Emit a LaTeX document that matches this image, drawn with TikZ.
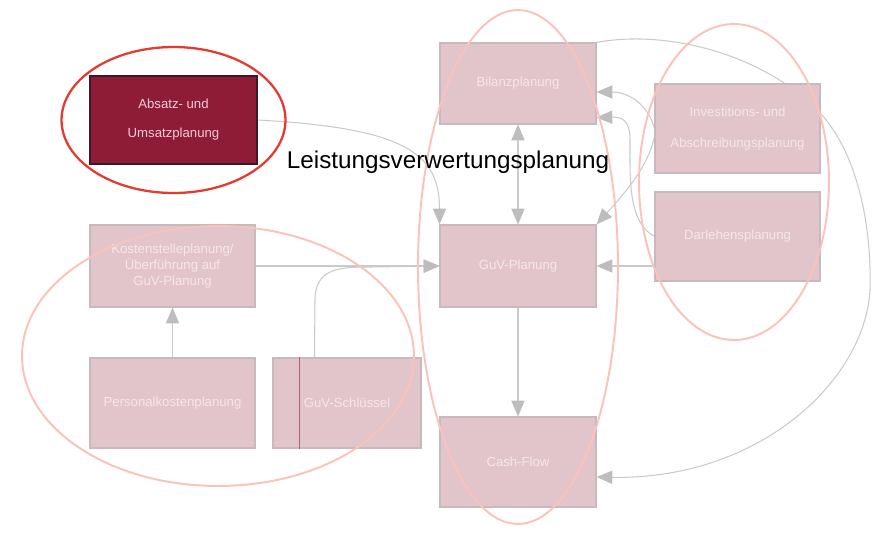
\documentclass[tikz,border=0pt]{standalone}
\usepackage{fontspec}
\setmainfont{Liberation Sans}
\usetikzlibrary{positioning, calc, arrows.meta, backgrounds}
\definecolor{boxfill}{HTML}{E2C5CB}
\definecolor{boxline}{HTML}{C9B8BC}
\definecolor{boxtext}{HTML}{F6E6EA}
\definecolor{darkfill}{HTML}{8E1C36}
\definecolor{darkline}{HTML}{3C1A22}
\definecolor{darktext}{HTML}{F2CCD6}
\definecolor{conline}{HTML}{CACACA}
\definecolor{contip}{HTML}{BDBDBD}
\definecolor{ringred}{HTML}{E63A30}
\definecolor{ringpink}{HTML}{F9C3BB}

\begin{document}
\begin{tikzpicture}[x=0.02cm,y=-0.02cm,
    >={Triangle[length=9pt,width=7.5pt,fill=contip,color=contip]},
    box/.style={draw=boxline, fill=boxfill, text=boxtext, line width=0.6pt,
        font=\fontsize{7.5pt}{9pt}\selectfont, align=center, inner sep=0pt,
        minimum width=3.12cm, minimum height=1.62cm},
    con/.style={draw=conline, line width=0.6pt, ->},
    ring/.style={draw=ringpink, line width=1.1pt}]
    \useasboundingbox (0,0) rectangle (890,532);
    %blocchi
    \node[box, fill=darkfill, draw=darkline, text=darktext, minimum width=3.34cm, minimum height=1.76cm] (absatz) at (173.5,120) {Absatz- und\\[7.5pt]Umsatzplanung};
    \node[box] (bilanz) at (518,83.5) {Bilanzplanung};
    \node[box, minimum width=3.3cm, minimum height=1.78cm] (invest) at (737.5,128.5) {Investitions- und\\[8.5pt]Abschreibungsplanung};
    \node[box, minimum width=3.3cm, minimum height=1.78cm] (darlehen) at (737.5,236.5) {Darlehensplanung};
    \node[box, minimum width=3.3cm, minimum height=1.64cm] (kosten) at (172.5,266) {Kostenstelleplanung/\\Überführung auf\\GuV-Planung};
    \node[box, minimum height=1.64cm] (guv) at (518,266) {GuV-Planung};
    \node[box, minimum width=3.3cm, minimum height=1.8cm] (personal) at (172.5,403) {Personalkostenplanung};
    \node[box, minimum width=2.96cm, minimum height=1.8cm] (schluessel) at (347,403) {GuV-Schlüssel};
    \node[box, minimum height=1.8cm] (cashflow) at (518,462) {Cash-Flow};
    \draw[draw=darkfill!70, line width=0.5pt] ($(schluessel.north west)+(27,0)$) -- ($(schluessel.south west)+(27,0)$);
    %collegamenti
    \begin{scope}[on background layer]
        \draw[con] (absatz.east) .. controls +(150,8) and +(0,-70) .. (guv.north west);
        \draw[con, <->] (bilanz.south) -- (guv.north);
        \draw[con] (invest.west) .. controls (648,104) and (628,92) .. ($(bilanz.east)+(0,8.5)$);
        \draw[con] (darlehen.west) .. controls (628,222) and (630,180) .. (630,140) .. controls (630,118) and (620,117) .. ($(bilanz.south east)+(0,-7)$);
        \draw[con] ($(invest.west)+(0,8)$) .. controls (648,168) and (622,196) .. (guv.north east);
        \draw[con] (darlehen.west |- guv.east) -- (guv.east);
        \draw[con] (kosten.east) -- (guv.west);
        \draw[con] ($(schluessel.north west)+(42,0)$) -- (315,300) .. controls (315,268) and (340,267) .. (370,267) -- (guv.west);
        \draw[con] (personal.north) -- (kosten.south);
        \draw[con] (guv.south) -- (cashflow.north);
        \draw[con] (bilanz.north east) .. controls (660,30) and (760,50) .. (820,113) .. controls (855,150) and (872,220) .. (870,290) .. controls (865,380) and (760,480) .. ($(cashflow.east)+(0,15)$);
    \end{scope}
    %ellissi
    \draw[draw=ringred, line width=1.3pt] (absatz.center) ellipse [x radius=2.24cm, y radius=1.46cm];
    \draw[ring] (518,267) ellipse [x radius=2cm, y radius=5.14cm];
    \draw[ring] (734,182) ellipse [x radius=1.9cm, y radius=3.16cm];
    \draw[ring] (218,356) ellipse [x radius=3.92cm, y radius=2.6cm];
    %etichetta
    \node[font=\fontsize{13.8pt}{16pt}\selectfont] (label) at (448,162) {Leistungsverwertungsplanung};
\end{tikzpicture}
\end{document}
